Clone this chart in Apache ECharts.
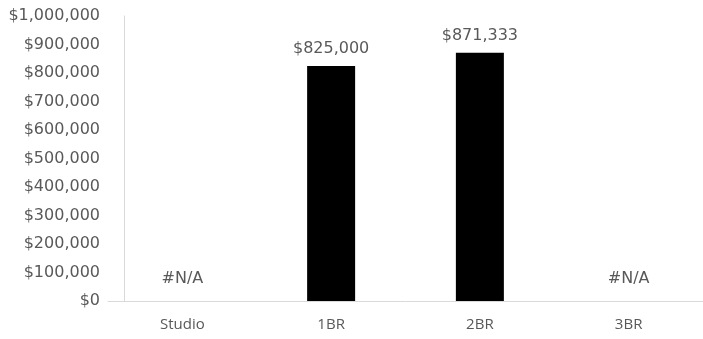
<!DOCTYPE html>
<html>
<head>
<meta charset="utf-8">
<script src="https://cdn.jsdelivr.net/npm/echarts@6/dist/echarts.min.js"></script>
<style>
  html, body { margin: 0; padding: 0; background: #fff; }
  #chart { width: 703px; height: 339px; }
</style>
</head>
<body>
<div id="chart"></div>
<script>
// Median price by unit type; null means no data (#N/A)
const categories = ['Studio', '1BR', '2BR', '3BR'];
const prices = [null, 825000, 871333, null];
const yTicks = { min: 0, max: 1000000, interval: 100000 };

const money = v => '$' + Math.round(v).toLocaleString('en-US');
const labelFont = 'DejaVu Sans';

const chart = echarts.init(document.getElementById('chart'));
chart.setOption({
  animation: false,
  grid: { left: 108, right: -5, top: 16, bottom: 38, containLabel: false },
  xAxis: {
    type: 'category',
    data: categories,
    axisLine: { lineStyle: { color: '#d9d9d9', width: 1 } },
    axisTick: { show: false },
    axisLabel: { color: '#595959', fontFamily: 'Open Sans', fontSize: 15, margin: 16 }
  },
  yAxis: {
    type: 'value',
    min: yTicks.min,
    max: yTicks.max,
    interval: yTicks.interval,
    offset: -16,
    axisLine: { show: true, lineStyle: { color: '#d9d9d9', width: 1 } },
    axisTick: { show: false },
    splitLine: { show: false },
    axisLabel: {
      color: '#595959', fontFamily: labelFont, fontSize: 16, margin: 24,
      formatter: v => money(v)
    }
  },
  series: [{
    type: 'bar',
    barWidth: 48,
    // missing values sit at zero height and carry an #N/A label
    data: prices.map(v => v == null
      ? { value: 0, label: { distance: 14 } }
      : { value: v }),
    itemStyle: { color: '#000000' },
    label: {
      show: true,
      position: 'top',
      distance: 9,
      color: '#595959',
      fontFamily: labelFont,
      fontSize: 16,
      formatter: p => prices[p.dataIndex] == null ? '#N/A' : money(p.value)
    }
  }]
});
</script>
</body>
</html>
